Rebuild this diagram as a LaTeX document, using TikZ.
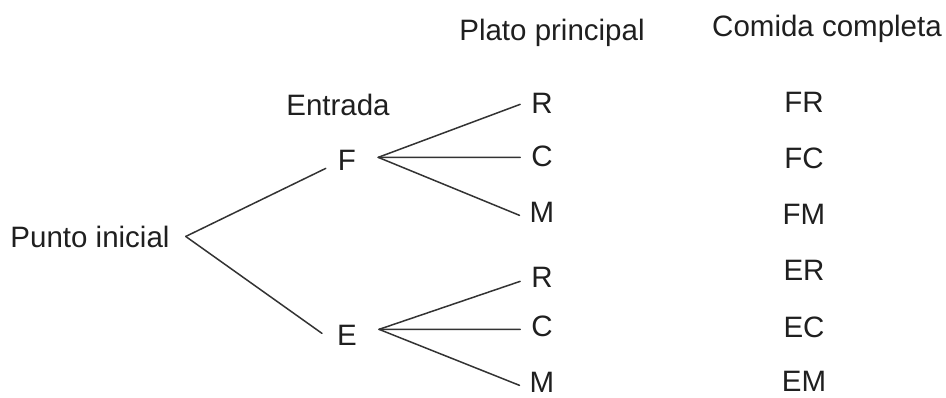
\documentclass[tikz,border=0pt]{standalone}
\usepackage{fontspec}
\setmainfont{Liberation Sans}
\begin{document}
\begin{tikzpicture}[x=1pt,y=-1pt,
  lbl/.style={inner sep=0pt,anchor=base,text=black!88,
    font=\fontsize{29.5}{34}\selectfont},
  branch/.style={draw=black!80,line width=1.5pt,line cap=round}]
\useasboundingbox (0,0) rectangle (946,397);

% column headings
\node[lbl] (hEnt)  at (338,115) {Entrada};
\node[lbl] (hPlat) at (552,40)  {Plato principal};
\node[lbl] (hCom)  at (827,36)  {Comida completa};

% root and first level
\node[lbl] (pi) at (90,247)  {Punto inicial};
\node[lbl] (F)  at (347,170) {F};
\node[lbl] (E)  at (347,345) {E};

% second level
\node[lbl] (R1) at (542,113) {R};
\node[lbl] (C1) at (542,166) {C};
\node[lbl] (M1) at (542,222) {M};
\node[lbl] (R2) at (542,287) {R};
\node[lbl] (C2) at (542,336) {C};
\node[lbl] (M2) at (542,392) {M};

% outcomes
\node[lbl] (FR) at (804,112) {FR};
\node[lbl] (FC) at (804,168) {FC};
\node[lbl] (FM) at (804,224) {FM};
\node[lbl] (ER) at (804,280) {ER};
\node[lbl] (EC) at (804,337) {EC};
\node[lbl] (EM) at (804,391) {EM};

% branches
\draw[branch] ([xshift=16pt]pi.east) -- ([shift={(-12pt,-8.5pt)}]F.west);
\draw[branch] ([xshift=16pt]pi.east) -- ([shift={(-15pt,1.5pt)}]E.west);

\draw[branch] ([shift={(22pt,2.5pt)}]F.east) -- ([shift={(-11pt,-1.5pt)}]R1.west);
\draw[branch] ([shift={(22pt,2.5pt)}]F.east) -- ([shift={(-11pt,-1.5pt)}]C1.west);
\draw[branch] ([shift={(22pt,2.5pt)}]F.east) -- ([shift={(-10pt,-3.5pt)}]M1.west);

\draw[branch] ([shift={(22pt,5.5pt)}]E.east) -- ([shift={(-11pt,-4.5pt)}]R2.west);
\draw[branch] ([shift={(22pt,5.5pt)}]E.east) -- ([shift={(-11pt,-3.5pt)}]C2.west);
\draw[branch] ([shift={(22pt,5.5pt)}]E.east) -- ([shift={(-10pt,-3.5pt)}]M2.west);
\end{tikzpicture}
\end{document}
